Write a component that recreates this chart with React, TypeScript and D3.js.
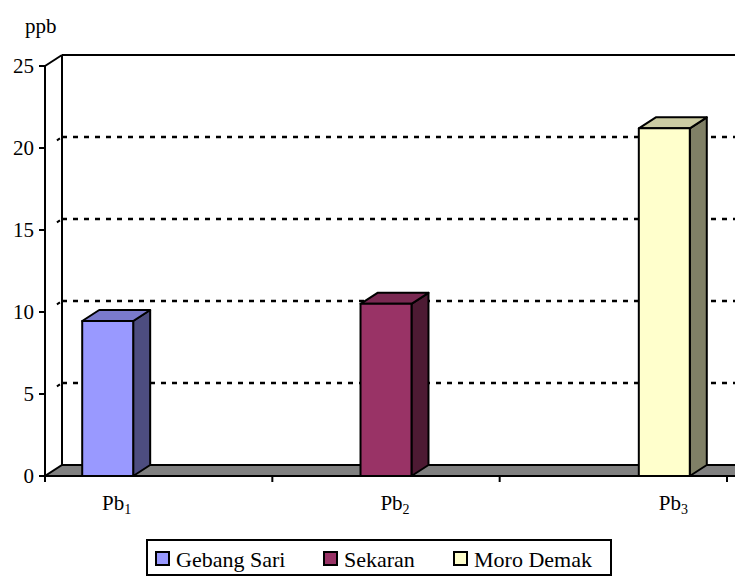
import React from "react";
import * as d3 from "d3";

const categories = ["1", "2", "3"];
const seriesNames = ["Gebang Sari", "Sekaran", "Moro Demak"];
// one non-empty value per series, in its own category
const gebangSari = [9.45, null, null];
const sekaran = [null, 10.5, null];
const moroDemak = [null, null, 21.2];
const yTicks = [0, 5, 10, 15, 20, 25];

const seriesValues = [gebangSari, sekaran, moroDemak];
const colors = [
  { front: "#9999FF", side: "#4D4D80", top: "#7A7ACC" },
  { front: "#993366", side: "#4D1A33", top: "#7A2952" },
  { front: "#FFFFCC", side: "#808066", top: "#CCCCA3" },
];

const W = 735;
const H = 576;
const left = 45;
const right = 727;
const base = 476;
const topY = 66;
const dx = 17;
const dy = -11;
const font = "'Times New Roman', Times, 'Liberation Serif', 'DejaVu Serif', serif";
const txt = { fontFamily: font };

const App: React.FC = () => {
  const x0 = d3.scaleBand<string>().domain(categories).range([left, right]);
  const x1 = d3
    .scaleBand<string>()
    .domain(seriesNames)
    .range([0, x0.bandwidth()])
    .paddingOuter(0.73);
  const y = d3.scaleLinear().domain([0, 25]).range([base, topY]);

  const pts = (p: [number, number][]) => p.map((d) => d.join(",")).join(" ");

  return (
    <svg
      width={W}
      height={H}
      style={{ position: "absolute", left: 0, top: 0, background: "#fff", fontFamily: font }}
    >
      {/* y axis title */}
      <text x={25} y={33} fontSize={21} style={txt}>ppb</text>

      {/* back wall gridlines */}
      {yTicks.slice(1, -1).map((t) => (
        <g key={t}>
          <line
            x1={left + dx}
            x2={W}
            y1={y(t) + dy}
            y2={y(t) + dy}
            stroke="#000"
            strokeWidth={2.5}
            strokeDasharray="5,6"
          />
          <line
            x1={left + dx * 0.7}
            x2={left + dx * 0.88}
            y1={y(t) + dy * 0.7}
            y2={y(t) + dy * 0.88}
            stroke="#000"
            strokeWidth={2}
          />
        </g>
      ))}
      {/* top edge of wall */}
      <line x1={left + dx} x2={W} y1={y(25) + dy} y2={y(25) + dy} stroke="#000" strokeWidth={2} />
      <line x1={left} y1={y(25)} x2={left + dx} y2={y(25) + dy} stroke="#000" strokeWidth={2} />
      <line x1={left + dx} y1={y(25) + dy} x2={left + dx} y2={base + dy} stroke="#000" strokeWidth={2} />

      {/* floor */}
      <polygon
        points={pts([
          [left, base],
          [right + 40, base],
          [right + 40 + dx, base + dy],
          [left + dx, base + dy],
        ])}
        fill="#808080"
        stroke="#000"
        strokeWidth={2}
      />

      {/* bars */}
      {seriesValues.map((vals, si) =>
        vals.map((v, ci) => {
          if (v == null) return null;
          const bx = (x0(categories[ci]) ?? 0) + (x1(seriesNames[si]) ?? 0);
          const bw = x1.bandwidth();
          const by = y(v);
          const c = colors[si];
          return (
            <g key={`${si}-${ci}`} stroke="#000" strokeWidth={2} strokeLinejoin="round">
              <polygon
                points={pts([
                  [bx + bw, base],
                  [bx + bw + dx, base + dy],
                  [bx + bw + dx, by + dy],
                  [bx + bw, by],
                ])}
                fill={c.side}
              />
              <polygon
                points={pts([
                  [bx, by],
                  [bx + bw, by],
                  [bx + bw + dx, by + dy],
                  [bx + dx, by + dy],
                ])}
                fill={c.top}
              />
              <rect x={bx} y={by} width={bw} height={base - by} fill={c.front} />
            </g>
          );
        })
      )}

      {/* front y axis */}
      <line x1={left} x2={left} y1={y(25)} y2={base + 1} stroke="#000" strokeWidth={2} />
      {yTicks.map((t) => (
        <g key={t}>
          <line x1={left - 6} x2={left} y1={y(t)} y2={y(t)} stroke="#000" strokeWidth={2} />
          <text
            x={34}
            y={y(t) + 7}
            fontSize={21}
            textAnchor="end"
            style={txt}
          >
            {t}
          </text>
        </g>
      ))}

      {/* x axis */}
      <line x1={left} x2={W} y1={base} y2={base} stroke="#000" strokeWidth={2} />
      {[...categories.map((c) => x0(c) ?? 0), right].map((tx, i) => (
        <line key={i} x1={tx} x2={tx} y1={base} y2={base + 6} stroke="#000" strokeWidth={2} />
      ))}
      {categories.map((c, ci) => {
        const bx = (x0(c) ?? 0) + (x1(seriesNames[ci]) ?? 0) + x1.bandwidth() / 2 + 9;
        return (
          <text key={c} x={bx} y={510} fontSize={21} textAnchor="middle" style={txt}>
            Pb
            <tspan fontSize={14} dy={4}>{c}</tspan>
          </text>
        );
      })}

      {/* legend */}
      <rect x={147} y={540} width={464} height={35} fill="#fff" stroke="#000" strokeWidth={2} />
      {seriesNames.map((name, i) => {
        const lx = [156, 324, 454][i];
        return (
          <g key={name}>
            <rect
              x={lx}
              y={552}
              width={13}
              height={13}
              fill={colors[i].front}
              stroke="#000"
              strokeWidth={2}
            />
            <text x={lx + 20} y={567} fontSize={22} style={txt}>{name}</text>
          </g>
        );
      })}
    </svg>
  );
};

export default App;
